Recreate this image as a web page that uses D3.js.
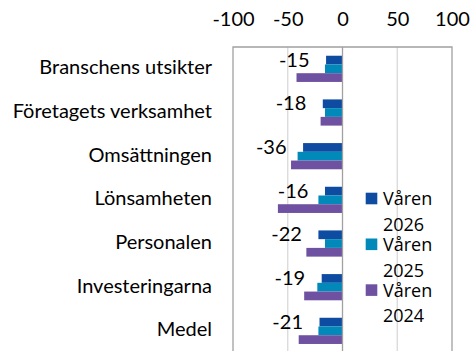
<!DOCTYPE html>
<html>
<head>
<meta charset="utf-8">
<script src="https://cdn.jsdelivr.net/npm/d3@7"></script>
<style>
  html, body { margin: 0; padding: 0; background: #fff; }
  svg { display: block; }
</style>
</head>
<body>
<svg id="chart" width="470" height="351"></svg>
<script>
// Survey balance per area, three spring surveys
const categories = ["Branschens utsikter", "Företagets verksamhet", "Omsättningen",
                    "Lönsamheten", "Personalen", "Investeringarna", "Medel"];
const seriesNames = ["Våren 2026", "Våren 2025", "Våren 2024"];
const varen2026 = [-15, -18, -36, -16, -22, -19, -21];
const varen2025 = [-16, -16, -41, -22, -16, -23, -22];
const varen2024 = [-42, -20, -47, -59, -33, -35, -40];
const tickValues = [-100, -50, 0, 50, 100];
const colors = ["#0d4ca1", "#0089b9", "#6f51a1"];

const seriesValues = [varen2026, varen2025, varen2024];
const rows = categories.map((c, i) => ({
  category: c,
  values: seriesValues.map((s, k) => ({ key: seriesNames[k], idx: k, value: s[i] }))
}));

const svg = d3.select("#chart");
const labelFont = "Lato, 'Open Sans', sans-serif";
const fmt = v => String(v); // plain hyphen-minus

const plot = { left: 233, right: 452, top: 47, bottom: 352.7 };

const x = d3.scaleLinear().domain([-100, 100]).range([plot.left, plot.right]);
const y = d3.scaleBand().domain(categories).range([plot.top, plot.bottom]).padding(0);
const groupFrac = 0.6;
const inner = d3.scaleBand().domain(d3.range(seriesNames.length))
  .range([0, y.bandwidth() * groupFrac]).padding(0);
const groupOffset = y.bandwidth() * (1 - groupFrac) / 2;

// vertical gridlines
svg.append("g").selectAll("line")
  .data(tickValues.filter(v => v !== 0 && v !== -100 && v !== 100))
  .join("line")
  .attr("x1", d => x(d)).attr("x2", d => x(d))
  .attr("y1", plot.top).attr("y2", plot.bottom)
  .attr("stroke", "#d9d9d9").attr("stroke-width", 1.3);

// top value axis
const xAxis = d3.axisTop(x).tickValues(tickValues).tickSize(0).tickPadding(0)
  .tickFormat(fmt);
const axG = svg.append("g").attr("transform", "translate(0,26)").call(xAxis);
axG.select(".domain").remove();
axG.selectAll("text")
  .attr("y", 0).attr("dy", 0)
  .style("font-family", labelFont).style("font-size", "20px").attr("fill", "#000");

// bars
const groups = svg.append("g").selectAll("g")
  .data(rows).join("g")
  .attr("transform", d => `translate(0,${y(d.category) + groupOffset})`);

groups.selectAll("rect")
  .data(d => d.values).join("rect")
  .attr("x", d => x(Math.min(0, d.value)))
  .attr("width", d => Math.abs(x(d.value) - x(0)))
  .attr("y", d => inner(d.idx))
  .attr("height", inner.bandwidth())
  .attr("fill", d => colors[d.idx]);

// data labels for the latest survey
groups.append("text")
  .attr("x", d => x(d.values[0].value) - 16.5)
  .attr("y", d => inner(0) + inner.bandwidth() / 2 + 6.6)
  .attr("text-anchor", "end")
  .style("font-family", labelFont).style("font-size", "20px")
  .attr("fill", "#000")
  .text(d => fmt(d.values[0].value));

// plot border and zero line
svg.append("path")
  .attr("d", `M${plot.left},${plot.bottom}V${plot.top}H${plot.right}V${plot.bottom}`)
  .attr("fill", "none").attr("stroke", "#a0a0a0").attr("stroke-width", 1.3);
svg.append("line")
  .attr("x1", x(0)).attr("x2", x(0)).attr("y1", plot.top).attr("y2", plot.bottom)
  .attr("stroke", "#a0a0a0").attr("stroke-width", 1.3);

// category labels
svg.append("g").selectAll("text")
  .data(categories).join("text")
  .attr("x", 212)
  .attr("y", d => y(d) + y.bandwidth() / 2 + 5.5)
  .attr("text-anchor", "end")
  .style("font-family", labelFont).style("font-size", "20px")
  .attr("fill", "#000")
  .text(d => d);

// legend: name wraps onto two lines
const legend = svg.append("g").attr("transform", "translate(365.7,192.7)");
const item = legend.selectAll("g").data(seriesNames).join("g")
  .attr("transform", (d, i) => `translate(0,${i * 45.8})`);
item.append("rect").attr("width", 11.6).attr("height", 11.6)
  .attr("fill", (d, i) => colors[i]);
const lt = item.append("text")
  .attr("x", 17.3).attr("y", 12.3)
  .style("font-family", "'Open Sans', sans-serif").style("font-size", "18px")
  .attr("fill", "#000");
lt.selectAll("tspan").data(d => d.split(" ")).join("tspan")
  .attr("x", 17.3).attr("dy", (d, i) => i === 0 ? 0 : 25.7)
  .text(d => d);
</script>
</body>
</html>
